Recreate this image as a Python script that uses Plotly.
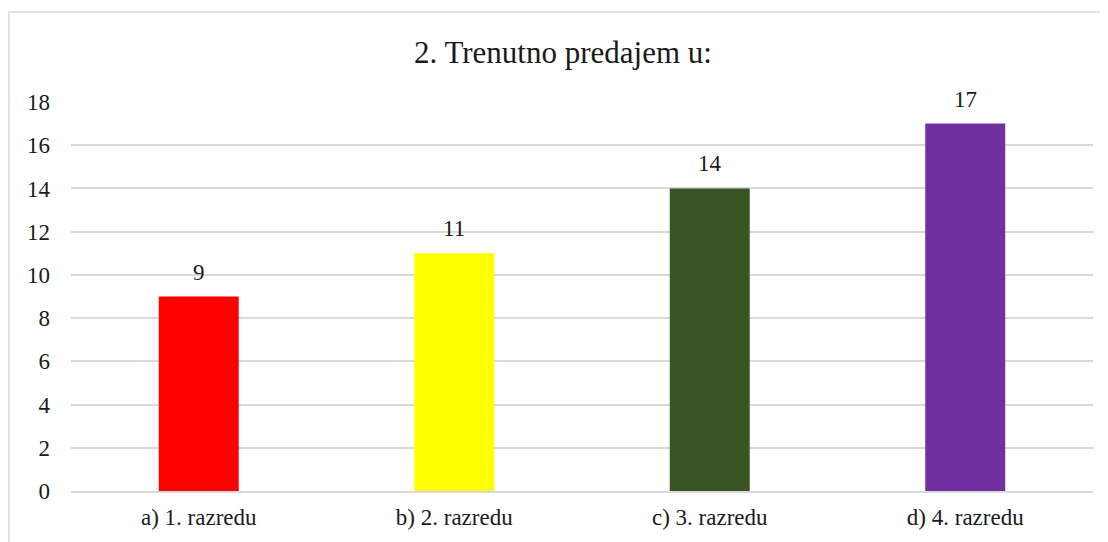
import plotly.graph_objects as go

categories = ["a) 1. razredu", "b) 2. razredu", "c) 3. razredu", "d) 4. razredu"]
counts = [9, 11, 14, 17]
bar_colors = ["#FF0000", "#FFFF00", "#375623", "#7030A0"]
y_ticks = [0, 2, 4, 6, 8, 10, 12, 14, 16, 18]

serif = "Liberation Serif"

fig = go.Figure(
    go.Bar(
        x=categories,
        y=counts,
        marker=dict(color=bar_colors, line=dict(width=0)),
        hoverinfo="x+y",
    )
)

# value labels above bars
for cat, val in zip(categories, counts):
    fig.add_annotation(
        x=cat, y=val, text=str(val), showarrow=False,
        yanchor="bottom", yshift=10,
        font=dict(family=serif, size=23, color="#1a1a1a"),
    )

# light chart border
fig.add_shape(
    type="rect", xref="paper", yref="paper",
    x0=-0.0607, x1=1.2, y0=-0.3, y1=1.2314,
    line=dict(color="#D9D9D9", width=1.5), layer="below",
)

# page has an 8px body margin, so the figure is sized/offset to compensate
fig.update_layout(
    width=1100,
    height=534,
    margin=dict(l=63, r=15, t=94, b=51),
    paper_bgcolor="white",
    plot_bgcolor="white",
    bargap=0.687,
    showlegend=False,
    title=dict(
        text="2. Trenutno predajem u:",
        x=0.5045, xref="container", xanchor="center",
        y=0.9176, yref="container", yanchor="middle",
        font=dict(family=serif, size=31, color="#1a1a1a"),
    ),
    font=dict(family=serif, size=23, color="#1a1a1a"),
)

fig.update_yaxes(
    range=[0, 18],
    tickvals=y_ticks,
    showgrid=True,
    gridcolor="#D9D9D9",
    gridwidth=1.5,
    zeroline=False,
    showline=False,
    ticks="",
    ticklabelstandoff=20,
    tickfont=dict(family=serif, size=23, color="#1a1a1a"),
)
fig.update_xaxes(
    showline=True,
    linecolor="#D9D9D9",
    linewidth=1.5,
    ticks="",
    ticklabelstandoff=5,
    tickfont=dict(family=serif, size=23, color="#1a1a1a"),
)

fig.write_html("out.html")
